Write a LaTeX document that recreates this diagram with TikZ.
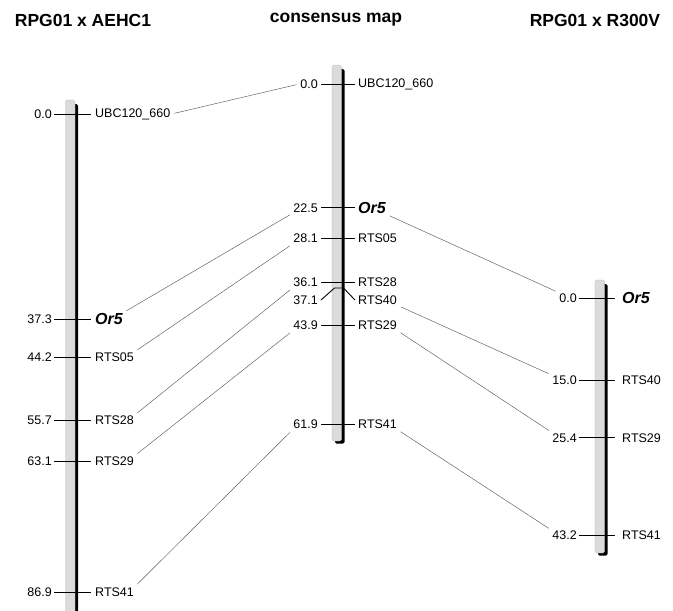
\documentclass[tikz,border=0pt]{standalone}
\usepackage{fontspec}
\setmainfont{Liberation Sans}
\newcommand\orfive{\fontsize{16}{16}\selectfont\bfseries\itshape Or5}
\begin{document}
\begin{tikzpicture}[x=1pt,y=-1pt,
  title/.style={font=\fontsize{17.5}{17.5}\selectfont\bfseries},
  num/.style={anchor=east,inner sep=1pt,font=\fontsize{12.5}{12.5}\selectfont},
  mrk/.style={anchor=west,inner sep=1pt,font=\fontsize{12.5}{12.5}\selectfont},
  tick/.style={line width=0.9pt},
  link/.style={black!65,line width=0.45pt,shorten >=3pt,shorten <=3pt}]
  \useasboundingbox (0,0) rectangle (673,611);
  % titles
  \node[title] (tl) at (83,20) {RPG01 x AEHC1};
  \node[title] (tc) at (336,20) {consensus map};
  \node[title] (tr) at (595,20) {RPG01 x R300V};
  % chromosome bars
  \foreach \x/\t/\b in {65.5/100/614, 332/65/441, 595/280/553}
    {\fill[black,rounded corners=1.5pt] (\x+3,\t+4) rectangle (\x+12.5,\b+2.5);
     \filldraw[fill=gray!28,draw=gray!60,line width=0.3pt,rounded corners=1.5pt] (\x,\t) rectangle (\x+9.5,\b);}
  % left map
  \foreach \c/\m/\n in {0.0/UBC120\_660/u, 37.3/\orfive/or, 44.2/RTS05/a, 55.7/RTS28/b, 63.1/RTS29/c, 86.9/RTS41/d}
    {\draw[tick] (54,{114+5.5*\c}) -- (91,{114+5.5*\c});
     \node[num] (ln\n) at (53,{114+5.5*\c}) {\c};
     \node[mrk] (l\n) at (94,{114+5.5*\c}) {\m};}
  % consensus map
  \foreach \c/\m/\n in {0.0/UBC120\_660/u, 22.5/\orfive/or, 28.1/RTS05/a, 36.1/RTS28/b, 43.9/RTS29/c, 61.9/RTS41/d}
    {\draw[tick] (321,{84+5.5*\c}) -- (355,{84+5.5*\c});
     \node[num] (cn\n) at (319,{84+5.5*\c}) {\c};
     \node[mrk] (c\n) at (357,{84+5.5*\c}) {\m};}
  \draw[tick] (321,300) -- (334.5,288) -- (343.5,288) -- (355,300);
  \node[num] (cne) at (319,300) {37.1};
  \node[mrk] (ce) at (357,300) {RTS40};
  % right map
  \foreach \c/\m/\n in {0.0/\orfive/or, 15.0/RTS40/e, 25.4/RTS29/c, 43.2/RTS41/d}
    {\draw[tick] (579,{298+5.5*\c}) -- (615,{298+5.5*\c});
     \node[num] (rn\n) at (578,{298+5.5*\c}) {\c};
     \node[mrk] (r\n) at (621,{298+5.5*\c}) {\m};}
  % links
  \draw[link] (lu.east) -- (cnu.west);
  \foreach \n in {or,a,b,c,d}
    \draw[link] (l\n.north east) -- (cn\n.south west);
  \foreach \n in {or,e,c,d}
    \draw[link] (c\n.south east) -- (rn\n.north west);
\end{tikzpicture}
\end{document}
